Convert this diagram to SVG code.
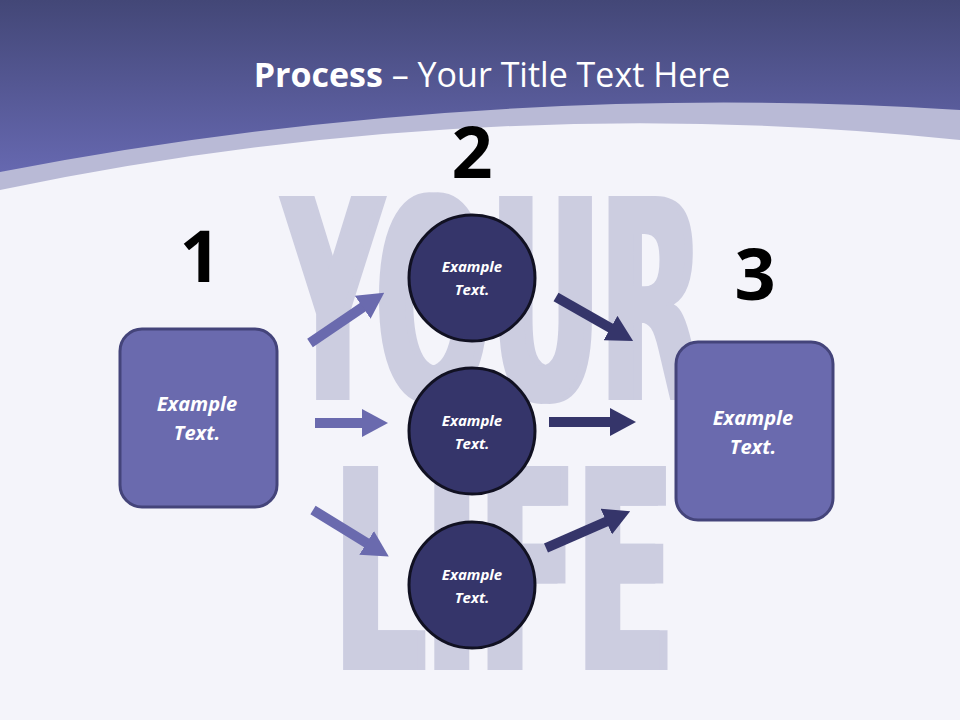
<svg xmlns="http://www.w3.org/2000/svg" width="960" height="720" viewBox="0 0 960 720">
<defs>
<linearGradient id="hdr" x1="0" y1="0" x2="0" y2="1"><stop offset="0" stop-color="#434777"/><stop offset="1" stop-color="#6668b0"/></linearGradient>
<marker id="ahL" markerUnits="userSpaceOnUse" markerWidth="26" markerHeight="28" refX="4" refY="14" orient="auto"><path d="M0,0 L26,14 L0,28 Z" fill="#6a6aae"/></marker>
<marker id="ahD" markerUnits="userSpaceOnUse" markerWidth="26" markerHeight="28" refX="4" refY="14" orient="auto"><path d="M0,0 L26,14 L0,28 Z" fill="#35356a"/></marker>
<style>
.box{fill:#6a6aae;stroke:#44447a;stroke-width:3}
.circ{fill:#35356a;stroke:#111122;stroke-width:3}
.lbl{font-family:"Open Sans","Liberation Sans",sans-serif;font-weight:bold;font-style:italic;fill:#fff;text-anchor:middle}
.num{font-family:"Open Sans","Liberation Sans",sans-serif;font-weight:bold;font-size:72px;fill:#000;text-anchor:middle}
.bg{font-family:"DejaVu Sans Condensed","Liberation Sans Narrow",sans-serif;font-weight:bold;fill:#c8c9de}
.arL{stroke:#6a6aae;stroke-width:10;marker-end:url(#ahL)}
.arD{stroke:#35356a;stroke-width:10;marker-end:url(#ahD)}
</style>
</defs>
<rect width="960" height="720" fill="#f4f4fa"/>
<path d="M0,0 H960 V140 Q480,90 0,190 Z" fill="#b9bad6"/>
<path d="M0,0 H960 V110 Q480,80 0,172 Z" fill="url(#hdr)"/>
<g opacity="0.9">
<text class="bg" x="280" y="400" font-size="280" textLength="420" lengthAdjust="spacingAndGlyphs" fill="#b8b8c8" transform="translate(8,0)">YOUR</text>
<text class="bg" x="280" y="400" font-size="280" textLength="420" lengthAdjust="spacingAndGlyphs">YOUR</text>
<text class="bg" x="330" y="670" font-size="280" textLength="340" lengthAdjust="spacingAndGlyphs" fill="#b8b8c8" transform="translate(8,0)">LIFE</text>
<text class="bg" x="330" y="670" font-size="280" textLength="340" lengthAdjust="spacingAndGlyphs">LIFE</text>
</g>
<text x="492" y="87" text-anchor="middle" font-family="Open Sans,Liberation Sans,sans-serif" font-size="34" fill="#fff"><tspan font-weight="bold">Process</tspan> – Your Title Text Here</text>
<g id="connectors">
<line class="arL" x1="310" y1="343" x2="366" y2="305"/>
<line class="arL" x1="315" y1="423" x2="366" y2="423"/>
<line class="arL" x1="313" y1="510" x2="370" y2="545"/>
<line class="arD" x1="556" y1="297" x2="614" y2="330"/>
<line class="arD" x1="549" y1="422" x2="614" y2="422"/>
<line class="arD" x1="546" y1="548" x2="610" y2="520"/>
</g>
<g id="n1"><text class="num" x="200" y="282">1</text><rect class="box" x="120" y="329" width="157" height="178" rx="22"/><text class="lbl" font-size="20" x="197" y="411">Example</text><text class="lbl" font-size="20" x="197" y="440">Text.</text></g>
<g id="n2"><text class="num" x="472" y="178">2</text></g>
<g id="c1"><circle class="circ" cx="472" cy="278" r="63"/><text class="lbl" font-size="15" x="472" y="272">Example</text><text class="lbl" font-size="15" x="472" y="295">Text.</text></g>
<g id="c2"><circle class="circ" cx="472" cy="431" r="63"/><text class="lbl" font-size="15" x="472" y="426">Example</text><text class="lbl" font-size="15" x="472" y="449">Text.</text></g>
<g id="c3"><circle class="circ" cx="472" cy="585" r="63"/><text class="lbl" font-size="15" x="472" y="580">Example</text><text class="lbl" font-size="15" x="472" y="603">Text.</text></g>
<g id="n3"><text class="num" x="755" y="300">3</text><rect class="box" x="676" y="342" width="157" height="178" rx="22"/><text class="lbl" font-size="20" x="753" y="425">Example</text><text class="lbl" font-size="20" x="753" y="454">Text.</text></g>
</svg>
